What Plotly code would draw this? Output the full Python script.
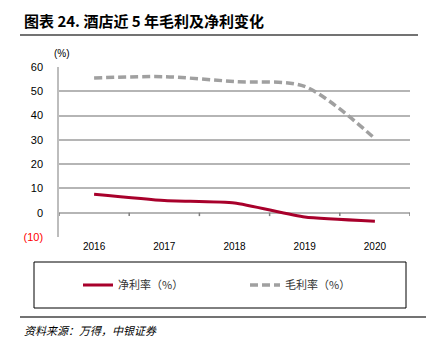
import plotly.graph_objects as go

years = ["2016", "2017", "2018", "2019", "2020"]
net_margin = [7.6, 5.0, 4.0, -1.8, -3.5]
gross_margin = [55.5, 56.0, 54.0, 52.0, 30.5]
y_ticks = [60, 50, 40, 30, 20, 10, 0, -10]
y_tick_text = ["60", "50", "40", "30", "20", "10", "0", "<span style='color:#ff0000'>(10)</span>"]

W, H = 426, 352
L, R, T, B = 59, 16, 67, 115
PW, PH = W - L - R, H - T - B

def px_x(x):
    return (x - L) / PW

def px_y(y):
    return 1 - (y - T) / PH

fig = go.Figure()
fig.add_trace(go.Scatter(x=years, y=net_margin, name="净利率（%）", mode="lines",
                         line=dict(color="#a8002b", width=3, shape="spline", smoothing=0.5)))
fig.add_trace(go.Scatter(x=years, y=gross_margin, name="毛利率（%）", mode="lines",
                         line=dict(color="#a0a0a0", width=3.5, dash="8px,4px", shape="spline", smoothing=0.8)))

fig.update_layout(
    template="none",
    width=W, height=H,
    margin=dict(l=L, r=R, t=T, b=B),
    paper_bgcolor="white", plot_bgcolor="white",
    font=dict(family="Liberation Sans, Arial", color="#000000"),
    showlegend=True,
    legend=dict(orientation="h", x=px_x(78), xanchor="left", y=px_y(285), yanchor="middle",
                font=dict(family="Noto Sans CJK SC", size=11, color="#333333"),
                entrywidth=122, itemwidth=30, bgcolor="rgba(0,0,0,0)", traceorder="normal"),
    xaxis=dict(type="category", range=[-0.5, 4.5], showgrid=False, zeroline=False,
               showline=False, ticks="", tickfont=dict(size=10), ticklabelstandoff=2),
    yaxis=dict(range=[-10, 60], tickvals=y_ticks, ticktext=y_tick_text, showgrid=True,
               gridcolor="#b5b5b5", gridwidth=1.5, zeroline=False, showline=True,
               linecolor="#bdbdbd", linewidth=1.5, ticks="", tickfont=dict(size=11),
               ticklabelstandoff=12),
)

shapes = [
    dict(type="line", xref="paper", yref="paper", x0=px_x(20), x1=px_x(418),
         y0=px_y(35), y1=px_y(35), line=dict(color="#444444", width=1.5)),
    dict(type="rect", xref="paper", yref="paper", x0=px_x(34), x1=px_x(406),
         y0=px_y(308), y1=px_y(262), line=dict(color="#000000", width=1)),
    dict(type="line", xref="paper", yref="paper", x0=px_x(20), x1=px_x(426),
         y0=px_y(317), y1=px_y(317), line=dict(color="#444444", width=1.5)),
    dict(type="line", xref="paper", yref="y", x0=0, x1=1, y0=0, y1=0, layer="below",
         line=dict(color="#7f7f7f", width=1.5)),
]
# category-boundary tick marks hanging from the zero axis
for i in range(len(years) + 1):
    shapes.append(dict(type="line", xref="x", yref="y", x0=i - 0.5, x1=i - 0.5,
                       y0=0, y1=-1.4, line=dict(color="#7f7f7f", width=1.5)))

fig.update_layout(
    annotations=[
        dict(text="<b>图表 24. 酒店近 5 年毛利及净利变化</b>", xref="paper", yref="paper",
             x=px_x(22), xanchor="left", y=px_y(20), yanchor="middle",
             showarrow=False, font=dict(family="Noto Sans CJK SC", size=15, color="#000000")),
        dict(text="(%)", xref="paper", yref="paper", x=px_x(52), xanchor="left",
             y=px_y(53), yanchor="middle", showarrow=False,
             font=dict(size=10, color="#000000")),
        dict(text="<i>资料来源：万得，中银证券</i>", xref="paper", yref="paper",
             x=px_x(22), xanchor="left", y=px_y(330), yanchor="middle",
             showarrow=False, font=dict(family="Noto Sans CJK SC", size=11, color="#000000")),
    ],
    shapes=shapes,
)

fig.write_html("out.html")
